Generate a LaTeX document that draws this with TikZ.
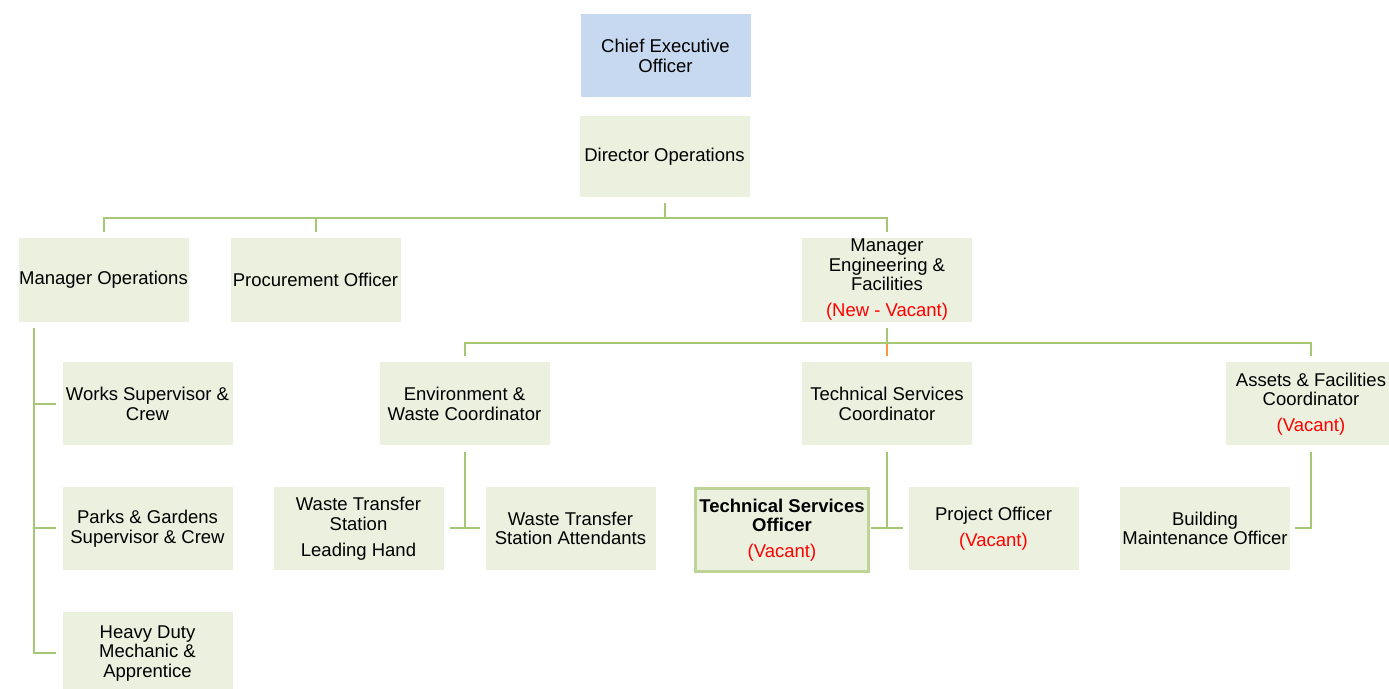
\documentclass[tikz,border=0pt]{standalone}
\usepackage{fontspec}
\setmainfont{Liberation Sans}
\usepackage{xcolor}
\usepackage{tikz}
\usetikzlibrary{positioning,calc}
\definecolor{orgfill}{RGB}{235,241,222}
\definecolor{orgblue}{RGB}{198,217,241}
\definecolor{orggreen}{RGB}{166,199,115}
\definecolor{orgedge}{RGB}{190,212,150}
\definecolor{orgred}{RGB}{255,0,0}
\definecolor{orgorange}{RGB}{247,150,70}
\newcommand{\vac}[1]{\\[3.25pt]\textcolor{orgred}{#1}}
\tikzset{
  box/.style={fill=orgfill, minimum width=85pt, minimum height=41.5pt, inner sep=0pt,
    align=center, font=\fontsize{9.25}{9.75}\selectfont},
  ceobox/.style={box, fill=orgblue},
  tsobox/.style={box, draw=orgedge, line width=1.5pt, minimum width=86.5pt, minimum height=41.5pt,
    font=\fontsize{9.25}{9.75}\selectfont\bfseries},
  link/.style={draw=orggreen, line width=1pt},
  newlink/.style={draw=orgorange, line width=1pt}
}

\begin{document}
\begin{tikzpicture}[x=0.5pt, y=-0.5pt]
    \useasboundingbox (0,0) rectangle (1389,689);

    % Top level
    \node[ceobox] (ceo) at (665.5,56) {Chief Executive\\Officer};
    \node[box, minimum height=40.5pt] (dirops) at (664.5,156.5) {Director Operations};

    % Managers
    \node[box, minimum height=42pt] (mgrops) at (103.5,280) {Manager Operations};
    \node[box, minimum height=42pt] (procure) at (315.5,280) {Procurement Officer};
    \node[box, minimum height=42pt] (mgreng) at (887,280) {Manager\\Engineering \&\\Facilities\vac{(New - Vacant)}};

    % Operations crews
    \node[box] (works) at (147.5,404) {Works Supervisor \&\\Crew};
    \node[box] (parks) at (147.5,528.5) {Parks \& Gardens\\Supervisor \& Crew};
    \node[box] (heavy) at (147.5,653.5) {Heavy Duty\\Mechanic \&\\Apprentice};

    % Coordinators
    \node[box] (envwaste) at (464.5,404) {Environment \&\\Waste Coordinator};
    \node[box] (tsc) at (887,404) {Technical Services\\Coordinator};
    \node[box] (assets) at (1311,404) {Assets \& Facilities\\Coordinator\vac{(Vacant)}};

    % Officers
    \node[box] (wtslh) at (358.5,528.5) {Waste Transfer\\Station\\[3.25pt]Leading Hand};
    \node[box] (wtsa) at (570.5,528.5) {Waste Transfer\\Station Attendants};
    \node[tsobox] (tso) at (782,530) {Technical Services\\Officer\\[3.25pt]{\mdseries\textcolor{orgred}{(Vacant)}}};
    \node[box] (proj) at (993.5,528.5) {Project Officer\vac{(Vacant)}};
    \node[box] (bldg) at (1205,528.5) {Building\\Maintenance Officer};

    % Bus lines
    \coordinate (busone) at (0,218);
    \coordinate (bustwo) at (0,343);
    \coordinate (opstop) at (34,328);

    % Director to managers
    \draw[link] ([yshift=-3pt]dirops.south) -- (dirops |- busone);
    \draw[link] ([yshift=3pt]mgrops.north) -- (mgrops |- busone) -- (mgreng |- busone) -- ([yshift=3pt]mgreng.north);
    \draw[link] ([yshift=3pt]procure.north) -- (procure |- busone);

    % Manager Operations
    \draw[link] (opstop) |- ([xshift=-3pt]heavy.west);
    \draw[link] ([xshift=-3pt]works.west) -- (opstop |- works.west);
    \draw[link] ([xshift=-3pt]parks.west) -- (opstop |- parks.west);

    % Manager Engineering
    \draw[link] ([yshift=-3pt]mgreng.south) -- (mgreng |- bustwo);
    \draw[newlink] (mgreng |- bustwo) -- ([yshift=3pt]tsc.north);
    \draw[link] ([yshift=3pt]envwaste.north) -- (envwaste |- bustwo) -- (assets |- bustwo) -- ([yshift=3pt]assets.north);

    % Coordinators to officers
    \draw[link] ([yshift=-3pt]envwaste.south) -- (envwaste |- wtsa.west);
    \draw[link] ([xshift=3pt]wtslh.east) -- ([xshift=-2.5pt]wtsa.west);
    \draw[link] ([yshift=-3pt]tsc.south) -- (tsc |- proj.west);
    \draw[link] ([xshift=0.5pt]tso.east |- proj.west) -- ([xshift=-2.5pt]proj.west);
    \draw[link] ([yshift=-3pt]assets.south) |- ([xshift=2.5pt]bldg.east);
\end{tikzpicture}
\end{document}
